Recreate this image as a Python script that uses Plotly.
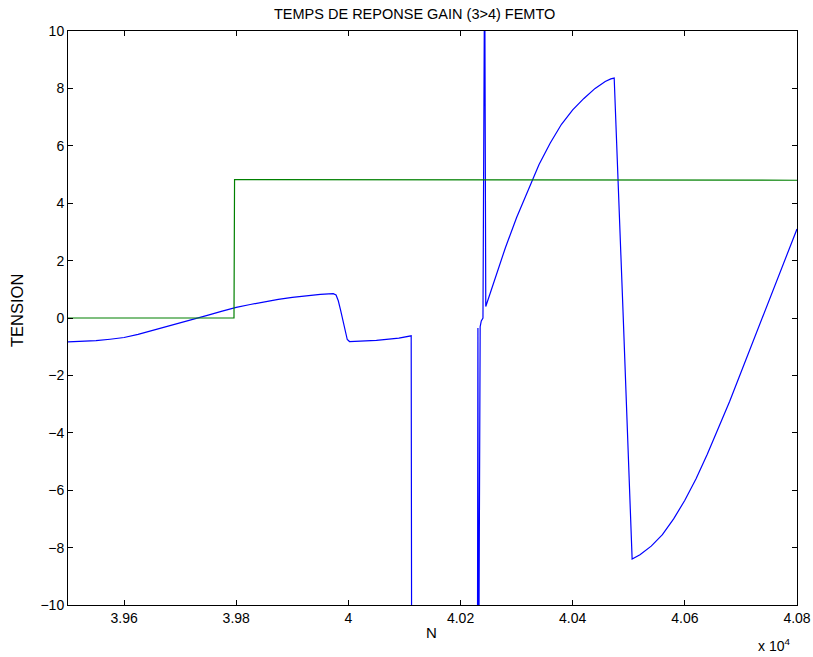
import plotly.graph_objects as go

# Blue signal (sample index N, tension)
blue_n = [39500, 39525, 39550, 39575, 39600, 39625, 39650, 39675, 39700, 39725, 39750, 39775,
          39800, 39825, 39850, 39875, 39900, 39925, 39950, 39965, 39973,
          39978, 39982, 39986, 39990, 39994, 39998, 40002,
          40050, 40090, 40112, 40113,
          40230, 40231, 40232, 40235, 40237, 40240, 40243, 40245,
          40260, 40280, 40300, 40320, 40340, 40360, 40380, 40400, 40420, 40440, 40458, 40468, 40474,
          40490, 40506,
          40520, 40540, 40560, 40580, 40600, 40620, 40640, 40660, 40680, 40700,
          40720, 40740, 40760, 40780, 40800]
blue_v = [-0.83, -0.82, -0.79, -0.74, -0.68, -0.57, -0.44, -0.31, -0.17, -0.03, 0.10, 0.24,
          0.37, 0.47, 0.57, 0.65, 0.72, 0.78, 0.82, 0.84, 0.85,
          0.80, 0.60, 0.28, -0.10, -0.50, -0.75, -0.82,
          -0.78, -0.70, -0.62, -15.0,
          -15.0, -0.35, -15.0, -0.30, -0.10, 0.0, 13.0, 0.40,
          1.3, 2.45, 3.5, 4.45, 5.35, 6.1, 6.75, 7.25, 7.65, 8.0, 8.24, 8.33, 8.36,
          0.1, -8.4,
          -8.25, -7.95, -7.55, -7.0, -6.35, -5.6, -4.75, -3.85, -2.9, -1.9,
          -0.9, 0.1, 1.1, 2.1, 3.1]

# Green command step
green_n = [39500, 39796, 39797, 40100, 40800]
green_v = [0.0, 0.0, 4.82, 4.81, 4.80]

x_tickvals = [39600, 39800, 40000, 40200, 40400, 40600, 40800]
x_ticktext = ["3.96", "3.98", "4", "4.02", "4.04", "4.06", "4.08"]
y_tickvals = [-10, -8, -6, -4, -2, 0, 2, 4, 6, 8, 10]
y_ticktext = ["\u221210", "\u22128", "\u22126", "\u22124", "\u22122", "0", "2", "4", "6", "8", "10"]

fig = go.Figure()
fig.add_trace(go.Scatter(x=blue_n, y=blue_v, mode="lines",
                         line=dict(color="rgb(0,0,255)", width=1.2), showlegend=False))
fig.add_trace(go.Scatter(x=green_n, y=green_v, mode="lines",
                         line=dict(color="rgb(0,128,0)", width=1.2), showlegend=False))

FAM = "Liberation Sans, Arial, sans-serif"
font = dict(family=FAM, size=14, color="black")

W, H = 813, 657
# plot area in page pixels: left 68, right 797, top 31, bottom 605
L, R, T, B = 68, 813 - 797, 31, 657 - 605
pw, ph = W - L - R, H - T - B

def px_x(x):  # page pixel -> paper coord
    return (x - L) / pw

def px_y(y):
    return ((H - B) - y) / ph

fig.update_layout(
    width=W, height=H,
    margin=dict(l=L, r=R, t=T, b=B, autoexpand=False),
    paper_bgcolor="white", plot_bgcolor="white",
    font=font,
    xaxis=dict(range=[39500, 40800], tickvals=x_tickvals, ticktext=x_ticktext,
               ticks="inside", ticklen=5, tickcolor="black", showline=True, linecolor="black",
               linewidth=1, mirror="ticks", showgrid=False, zeroline=False, automargin=False,
               tickfont=dict(size=14), ticklabeloverflow="allow"),
    yaxis=dict(range=[-10, 10], tickvals=y_tickvals, ticktext=y_ticktext,
               ticks="inside", ticklen=5, tickcolor="black", showline=True, linecolor="black",
               linewidth=1, mirror="ticks", showgrid=False, zeroline=False, automargin=False,
               tickfont=dict(size=14)),
    annotations=[
        dict(text="TEMPS DE REPONSE GAIN (3>4) FEMTO", x=px_x(414), y=px_y(14),
             xref="paper", yref="paper", xanchor="center", yanchor="middle",
             showarrow=False, font=dict(family=FAM, size=14.5)),
        dict(text="N", x=px_x(431), y=px_y(632), xref="paper", yref="paper",
             xanchor="center", yanchor="middle", showarrow=False, font=dict(family=FAM, size=15)),
        dict(text="TENSION", x=px_x(17), y=px_y(311), xref="paper", yref="paper",
             xanchor="center", yanchor="middle", textangle=-90, showarrow=False,
             font=dict(family=FAM, size=16.5)),
        dict(text="x 10<sup>4</sup>", x=px_x(792), y=px_y(645), xref="paper", yref="paper",
             xanchor="right", yanchor="middle", showarrow=False, font=dict(family=FAM, size=14)),
    ],
)

fig.write_html("out.html", config={"displayModeBar": False},
               post_script="document.body.style.margin='0';document.body.style.overflow='hidden';")
